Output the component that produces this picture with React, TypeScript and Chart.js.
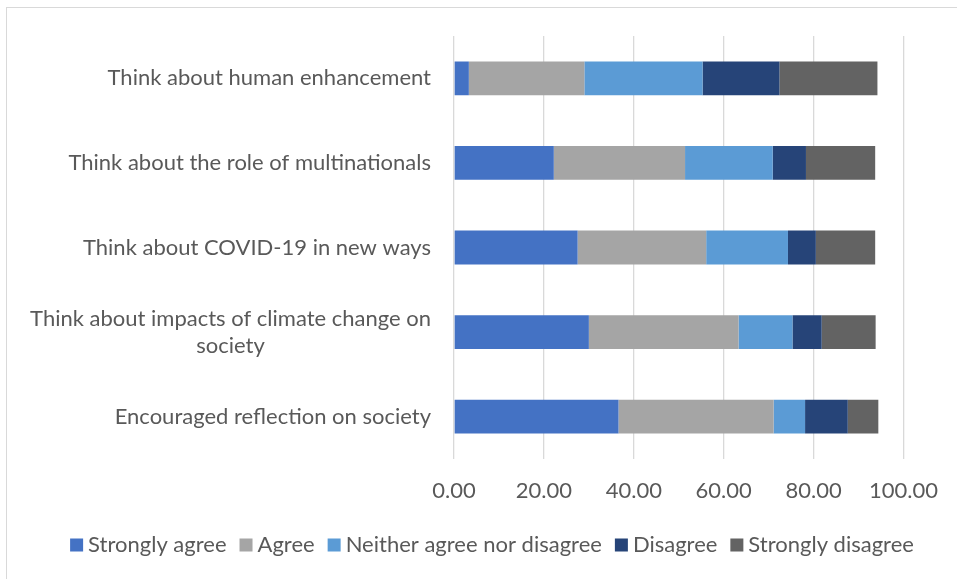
import React, { useEffect, useRef } from "react";
import { Chart, registerables } from "chart.js";

Chart.register(...registerables);

const categories: string[][] = [
  ["Think about human enhancement"],
  ["Think about the role of multinationals"],
  ["Think about COVID-19 in new ways"],
  ["Think about impacts of climate change on", "society"],
  ["Encouraged reflection on society"],
];

const seriesNames = [
  "Strongly agree",
  "Agree",
  "Neither agree nor disagree",
  "Disagree",
  "Strongly disagree",
];

const stronglyAgree = [3.3, 22.2, 27.5, 30.0, 36.6];
const agree = [25.7, 29.2, 28.6, 33.3, 34.5];
const neither = [26.3, 19.5, 18.2, 12.0, 7.0];
const disagree = [17.1, 7.4, 6.2, 6.5, 9.5];
const stronglyDisagree = [21.8, 15.4, 13.2, 12.0, 6.8];

const colors = ["#4472C4", "#A5A5A5", "#5B9BD5", "#264478", "#636363"];

const FONT = "Lato";
const TEXT = "#595959";
const FS = 22;

const yLabelPlugin = {
  id: "yLabelPlugin",
  afterDraw(chart: any) {
    const ctx = chart.ctx;
    const y = chart.scales.y;
    ctx.save();
    ctx.font = `${FS}px ${FONT}`;
    ctx.fillStyle = TEXT;
    ctx.textAlign = "center";
    ctx.textBaseline = "middle";
    const right = 431;
    const lh = 27;
    categories.forEach((lines, i) => {
      const cy = y.getPixelForTick(i);
      const w = Math.max(...lines.map((l) => ctx.measureText(l).width));
      const cx = right - w / 2;
      const start = cy - ((lines.length - 1) * lh) / 2;
      lines.forEach((l, j) => ctx.fillText(l, cx, start + j * lh));
    });
    ctx.restore();
  },
};

const legendPlugin = {
  id: "customLegend",
  afterDraw(chart: any) {
    const ctx = chart.ctx;
    ctx.save();
    ctx.font = `${FS}px ${FONT}`;
    ctx.textBaseline = "middle";
    ctx.textAlign = "left";
    const box = 13;
    const gapBox = 5;
    const gapItem = 13;
    const items = chart.data.datasets.map((d: any) => ({
      label: d.label,
      color: d.backgroundColor,
      w: ctx.measureText(d.label).width,
    }));
    const total =
      items.reduce((a: number, it: any) => a + box + gapBox + it.w, 0) + gapItem * (items.length - 1);
    let x = 492 - total / 2;
    const cy = 545;
    items.forEach((it: any) => {
      ctx.fillStyle = it.color;
      ctx.fillRect(x, cy - box / 2, box, box);
      x += box + gapBox;
      ctx.fillStyle = TEXT;
      ctx.fillText(it.label, x, cy);
      x += it.w + gapItem;
    });
    ctx.restore();
  },
};

export default function App() {
  const ref = useRef<HTMLCanvasElement | null>(null);
  useEffect(() => {
    if (!ref.current) return;
    const values = [stronglyAgree, agree, neither, disagree, stronglyDisagree];
    const chart = new Chart(ref.current, {
      type: "bar",
      data: {
        labels: categories.map((c) => c.join(" ")),
        datasets: seriesNames.map((name, i) => ({
          label: name,
          data: values[i],
          backgroundColor: colors[i],
          borderWidth: 0,
          barPercentage: 0.8,
          categoryPercentage: 0.5,
        })),
      },
      options: {
        indexAxis: "y",
        animation: false,
        responsive: false,
        maintainAspectRatio: false,
        layout: { padding: { top: 36, right: 52, bottom: 77, left: 0 } },
        scales: {
          x: {
            stacked: true,
            min: 0,
            max: 100,
            border: { display: false },
            grid: { color: "#d9d9d9", lineWidth: 1.3, drawTicks: false },
            ticks: {
              stepSize: 20,
              padding: 19,
              color: TEXT,
              font: { family: FONT, size: FS },
              callback: (v: any) => Number(v).toFixed(2),
            },
            afterFit: (s: any) => {
              s.height = 43;
            },
          },
          y: {
            stacked: true,
            border: { display: false },
            grid: { display: false },
            ticks: { display: false },
            afterFit: (s: any) => {
              s.width = 454;
            },
          },
        },
        plugins: {
          legend: { display: false },
          tooltip: { enabled: false },
        },
      },
      plugins: [yLabelPlugin, legendPlugin],
    });
    return () => chart.destroy();
  }, []);
  return (
    <div style={{ position: "fixed", left: 0, top: 0, width: 957, height: 579, background: "#fff" }}>
      <div
        style={{
          position: "absolute",
          left: 6,
          top: 7,
          width: 960,
          height: 580,
          borderLeft: "1px solid #d9d9d9",
          borderTop: "1px solid #d9d9d9",
        }}
      />
      <canvas ref={ref} width={957} height={579} style={{ position: "absolute", left: 0, top: 0 }} />
    </div>
  );
}
